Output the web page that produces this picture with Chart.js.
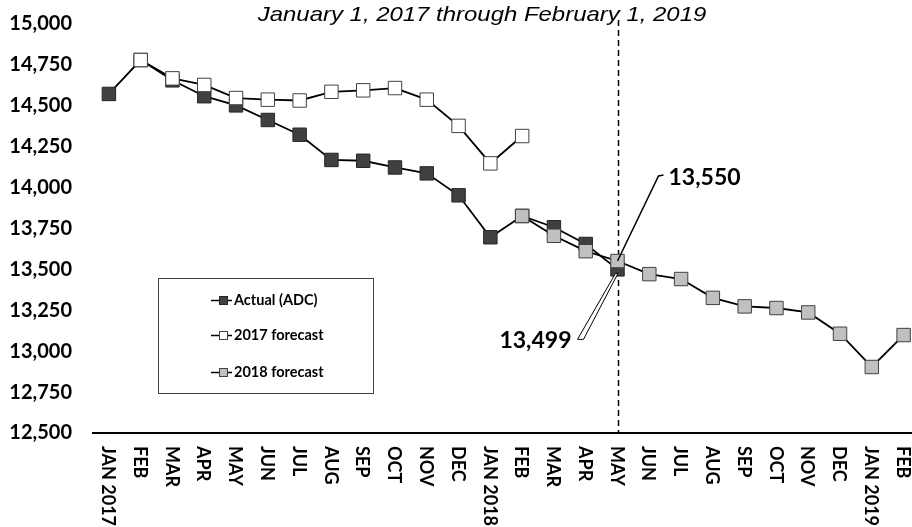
<!DOCTYPE html>
<html>
<head>
<meta charset="utf-8">
<script src="https://cdn.jsdelivr.net/npm/chart.js@4.4.1/dist/chart.umd.min.js"></script>
<style>
  html, body { margin:0; padding:0; background:#fff; overflow:hidden; }
  #wrap { width:912px; height:527px; overflow:hidden; position:relative; }
</style>
</head>
<body>
<div id="wrap"><canvas id="c" width="930" height="527"></canvas></div>
<script>
// meses (JAN 2017 .. FEB 2019)
const months = ['JAN 2017','FEB','MAR','APR','MAY','JUN','JUL','AUG','SEP','OCT','NOV','DEC',
                'JAN 2018','FEB','MAR','APR','MAY','JUN','JUL','AUG','SEP','OCT','NOV','DEC',
                'JAN 2019','FEB'];
const actual = [14570,14777,14653,14556,14500,14411,14321,14167,14162,14121,14085,13951,
                13695,13825,13756,13654,13499,null,null,null,null,null,null,null,null,null];
const forecast2017 = [null,14777,14665,14625,14545,14535,14530,14583,14592,14606,14535,14375,
                14146,14313,null,null,null,null,null,null,null,null,null,null,null,null];
const forecast2018 = [null,null,null,null,null,null,null,null,null,null,null,null,
                null,13825,13704,13610,13550,13470,13440,13325,13273,13263,13236,13106,12903,13098];
const yTicks = [12500,12750,13000,13250,13500,13750,14000,14250,14500,14750,15000];
const seriesNames = ['Actual (ADC)','2017 forecast','2018 forecast'];
const title = 'January 1, 2017 through February 1, 2019';
const splitIndex = 16; // MAY 2018

const fmt = v => v.toLocaleString('en-US');

const overlay = {
  id: 'overlay',
  beforeDatasetsDraw(chart){
    const {ctx, scales:{x}, chartArea} = chart;
    const px = Math.round(x.getPixelForValue(splitIndex)) + 0.5;
    ctx.save();
    ctx.strokeStyle = '#000'; ctx.lineWidth = 1.5; ctx.setLineDash([6,4]);
    ctx.beginPath(); ctx.moveTo(px, 20); ctx.lineTo(px, chartArea.bottom); ctx.stroke();
    ctx.restore();
  },
  afterDatasetsDraw(chart){
    const {ctx, scales:{x, y}} = chart;
    const px = x.getPixelForValue(splitIndex);
    const pHi = y.getPixelForValue(forecast2018[splitIndex]);
    const pLo = y.getPixelForValue(actual[splitIndex]);
    ctx.save();
    // callout 2018 forecast
    ctx.strokeStyle = '#000'; ctx.lineWidth = 1.5;
    ctx.beginPath(); ctx.moveTo(px, pHi); ctx.lineTo(px+41, pHi-85); ctx.lineTo(px+46, pHi-86); ctx.stroke();
    ctx.font = 'bold 23px Lato'; ctx.fillStyle = '#000';
    ctx.textAlign = 'left'; ctx.textBaseline = 'middle';
    ctx.fillText(fmt(forecast2018[splitIndex]), px+51, pHi-83);
    // callout actual (wedge)
    ctx.lineWidth = 1;
    ctx.beginPath();
    ctx.moveTo(px-2, pLo+4); ctx.lineTo(px-40, pLo+70); ctx.lineTo(px-34, pLo+70); ctx.lineTo(px+0.5, pLo+4);
    ctx.closePath(); ctx.fillStyle = '#fff'; ctx.fill(); ctx.stroke();
    ctx.fillStyle = '#000'; ctx.textAlign = 'right';
    ctx.fillText(fmt(actual[splitIndex]), px-46, pLo+71);

    // leyenda
    const ds = chart.data.datasets;
    ctx.fillStyle = '#fff'; ctx.strokeStyle = '#404040'; ctx.lineWidth = 1;
    ctx.fillRect(158.5, 278.5, 215, 115); ctx.strokeRect(158.5, 278.5, 215, 115);
    const rows = [300, 335, 372];
    ctx.font = 'bold 14.5px Lato'; ctx.textAlign = 'left'; ctx.textBaseline = 'middle';
    ds.forEach((d, i) => {
      const ry = rows[i] + 0.5;
      ctx.strokeStyle = '#000'; ctx.lineWidth = 1.5;
      ctx.beginPath(); ctx.moveTo(211, ry); ctx.lineTo(232, ry); ctx.stroke();
      ctx.fillStyle = d.pointBackgroundColor; ctx.strokeStyle = d.pointBorderColor; ctx.lineWidth = 1;
      ctx.fillRect(219.5, ry-4, 8, 8); ctx.strokeRect(219.5, ry-4, 8, 8);
      ctx.fillStyle = '#000';
      ctx.fillText(d.label, 234, ry);
    });
    ctx.restore();
  },
  afterDraw(chart){
    const {ctx, scales:{x}, chartArea} = chart;
    ctx.save();
    // etiquetas del eje x, giradas
    ctx.font = 'bold 18px Lato'; ctx.fillStyle = '#000';
    ctx.textAlign = 'left'; ctx.textBaseline = 'middle';
    months.forEach((m, i) => {
      const px = x.getPixelForTick(i);
      ctx.save(); ctx.translate(px - 1, chartArea.bottom + 13); ctx.rotate(Math.PI/2);
      ctx.fillText(m, 0, 0); ctx.restore();
    });
    // titulo
    ctx.font = 'italic 21px "Liberation Sans"'; ctx.textAlign = 'center'; ctx.textBaseline = 'alphabetic';
    ctx.translate(482, 21); ctx.scale(1.14, 1);
    ctx.fillText(title, 0, 0);
    ctx.restore();
  }
};

const line = { borderColor:'#000', borderWidth:1.8, pointStyle:'rect', pointRadius:9.5,
               pointBorderWidth:1, spanGaps:false };

new Chart(document.getElementById('c'), {
  type: 'line',
  data: {
    labels: months,
    datasets: [
      Object.assign({label: seriesNames[0], data: actual, pointBackgroundColor:'#404040', pointBorderColor:'#262626', order:3}, line),
      Object.assign({label: seriesNames[1], data: forecast2017, pointBackgroundColor:'#ffffff', pointBorderColor:'#404040', order:2}, line),
      Object.assign({label: seriesNames[2], data: forecast2018, pointBackgroundColor:'#c0c0c0', pointBorderColor:'#404040', order:1}, line)
    ]
  },
  options: {
    responsive: false, animation: false, devicePixelRatio: 1,
    layout: { padding: { left:0, top:23.5, right:8, bottom:0 } },
    plugins: { legend:{display:false}, tooltip:{enabled:false}, title:{display:false} },
    scales: {
      x: {
        offset: true,
        grid: { display:false, drawTicks:false },
        border: { display:true, color:'#000', width:2 },
        ticks: { display:false },
        afterFit(s){ s.height = 94; }
      },
      y: {
        min: yTicks[0], max: yTicks[yTicks.length-1],
        afterBuildTicks(s){ s.ticks = yTicks.map(v => ({value:v})); },
        grid: { display:false, drawTicks:false },
        border: { display:false },
        ticks: { padding:21, color:'#000', font:{family:'Lato', weight:'bold', size:20}, callback: v => fmt(v) },
        afterFit(s){ s.width = 93; s.paddingTop = 12; s.paddingBottom = 12; }
      }
    }
  },
  plugins: [overlay]
});
</script>
</body>
</html>
